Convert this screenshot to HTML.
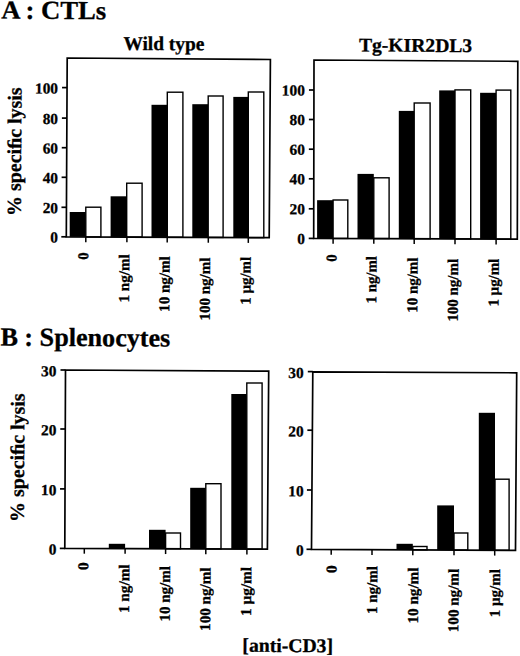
<!DOCTYPE html>
<html><head><meta charset="utf-8"><title>Figure</title>
<style>
html,body{margin:0;padding:0;background:#fff;}
body{width:520px;height:656px;overflow:hidden;}
svg{display:block;}
text{font-family:"Liberation Serif", serif;font-weight:bold;fill:#000;stroke:#000;stroke-width:0.3px;}
.ax{fill:none;stroke:#000;stroke-width:1.7;}
.tk{fill:none;stroke:#000;stroke-width:1.5;}
.w{fill:#fff;stroke:#000;stroke-width:1.4;}
</style></head><body>
<svg width="520" height="656" viewBox="0 0 520 656">
<rect x="69.7" y="212" width="16.1" height="24.89"/>
<rect class="w" x="85.8" y="207.2" width="15.1" height="29.69"/>
<rect x="110.6" y="196.3" width="16.1" height="40.77"/>
<rect class="w" x="126.7" y="183.2" width="15.4" height="53.87"/>
<rect x="151.5" y="104.8" width="15.8" height="132.45"/>
<rect class="w" x="167.3" y="92.2" width="15.6" height="145.05"/>
<rect x="192.3" y="104.2" width="15.9" height="133.23"/>
<rect class="w" x="208.2" y="96" width="14.9" height="141.43"/>
<rect x="233.3" y="96.9" width="15" height="140.71"/>
<rect class="w" x="248.3" y="92" width="15.5" height="145.61"/>
<path class="ax" d="M67.2 58L270.4 59.5L269.2 237.7L66.3 236.8Z"/>
<path class="ax" d="M61.3 236.8H66.3"/>
<text transform="translate(50.36 242.61) rotate(0.37)" font-size="15.3" textLength="7.65" lengthAdjust="spacingAndGlyphs">0</text>
<path class="ax" d="M61.45 207.3H66.45"/>
<text transform="translate(42.71 213.11) rotate(0.37)" font-size="15.3" textLength="15.3" lengthAdjust="spacingAndGlyphs">20</text>
<path class="ax" d="M61.6 177.3H66.6"/>
<text transform="translate(42.71 183.11) rotate(0.37)" font-size="15.3" textLength="15.3" lengthAdjust="spacingAndGlyphs">40</text>
<path class="ax" d="M61.75 147.7H66.75"/>
<text transform="translate(42.71 153.51) rotate(0.37)" font-size="15.3" textLength="15.3" lengthAdjust="spacingAndGlyphs">60</text>
<path class="ax" d="M61.9 118.1H66.9"/>
<text transform="translate(42.71 123.91) rotate(0.37)" font-size="15.3" textLength="15.3" lengthAdjust="spacingAndGlyphs">80</text>
<path class="ax" d="M62.05 87.6H67.05"/>
<text transform="translate(35.06 93.41) rotate(0.37)" font-size="15.3" textLength="22.95" lengthAdjust="spacingAndGlyphs">100</text>
<path class="tk" d="M85.8 236.89V242.19"/>
<path class="tk" d="M126.9 237.07V242.37"/>
<path class="tk" d="M167.2 237.25V242.55"/>
<path class="tk" d="M208.3 237.43V242.73"/>
<path class="tk" d="M248.3 237.61V242.91"/>
<text transform="translate(88.2 259.79) rotate(-89.63)" font-size="15.1" textLength="7.38" lengthAdjust="spacingAndGlyphs">0</text>
<text transform="translate(129 302.4) rotate(-89.63)" font-size="15.1" textLength="48.03" lengthAdjust="spacingAndGlyphs">1 ng/ml</text>
<text transform="translate(169.3 311.91) rotate(-89.63)" font-size="15.1" textLength="55.73" lengthAdjust="spacingAndGlyphs">10 ng/ml</text>
<text transform="translate(209.7 320.5) rotate(-89.63)" font-size="15.1" textLength="62.92" lengthAdjust="spacingAndGlyphs">100 ng/ml</text>
<text transform="translate(250.4 304.69) rotate(-89.63)" font-size="15.1" textLength="47.71" lengthAdjust="spacingAndGlyphs">1 µg/ml</text>
<rect x="317.1" y="200.2" width="16" height="38.19"/>
<rect class="w" x="333.1" y="200" width="14.7" height="38.39"/>
<rect x="357.5" y="173.9" width="16.3" height="64.67"/>
<rect class="w" x="373.8" y="177.8" width="15.3" height="60.77"/>
<rect x="398.8" y="110.9" width="15.4" height="127.84"/>
<rect class="w" x="414.2" y="103" width="15.9" height="135.74"/>
<rect x="439.2" y="90.4" width="15.8" height="148.52"/>
<rect class="w" x="455" y="89.9" width="15.7" height="149.02"/>
<rect x="480.1" y="92.8" width="16" height="146.31"/>
<rect class="w" x="496.1" y="90.1" width="14.7" height="149.01"/>
<path class="ax" d="M314 60L517.8 61.3L517.3 239.2L313.7 238.3Z"/>
<path class="ax" d="M308.7 238.4H313.7"/>
<text transform="translate(297.16 243.91) rotate(0.37)" font-size="15.3" textLength="7.65" lengthAdjust="spacingAndGlyphs">0</text>
<path class="ax" d="M308.75 208.8H313.75"/>
<text transform="translate(289.51 214.31) rotate(0.37)" font-size="15.3" textLength="15.3" lengthAdjust="spacingAndGlyphs">20</text>
<path class="ax" d="M308.8 178.8H313.8"/>
<text transform="translate(289.51 184.31) rotate(0.37)" font-size="15.3" textLength="15.3" lengthAdjust="spacingAndGlyphs">40</text>
<path class="ax" d="M308.85 149.2H313.85"/>
<text transform="translate(289.51 154.71) rotate(0.37)" font-size="15.3" textLength="15.3" lengthAdjust="spacingAndGlyphs">60</text>
<path class="ax" d="M308.9 119.5H313.9"/>
<text transform="translate(289.51 125.01) rotate(0.37)" font-size="15.3" textLength="15.3" lengthAdjust="spacingAndGlyphs">80</text>
<path class="ax" d="M308.95 90H313.95"/>
<text transform="translate(281.86 95.51) rotate(0.37)" font-size="15.3" textLength="22.95" lengthAdjust="spacingAndGlyphs">100</text>
<path class="tk" d="M333.1 238.39V243.69"/>
<path class="tk" d="M373.8 238.57V243.87"/>
<path class="tk" d="M414.2 238.74V244.04"/>
<path class="tk" d="M455 238.92V244.22"/>
<path class="tk" d="M496.1 239.11V244.41"/>
<text transform="translate(336.4 261.78) rotate(-89.63)" font-size="15.1" textLength="7.26" lengthAdjust="spacingAndGlyphs">0</text>
<text transform="translate(376.3 303.38) rotate(-89.63)" font-size="15.1" textLength="47.2" lengthAdjust="spacingAndGlyphs">1 ng/ml</text>
<text transform="translate(417.3 312.8) rotate(-89.63)" font-size="15.1" textLength="55.22" lengthAdjust="spacingAndGlyphs">10 ng/ml</text>
<text transform="translate(457.7 321.6) rotate(-89.63)" font-size="15.1" textLength="62.72" lengthAdjust="spacingAndGlyphs">100 ng/ml</text>
<text transform="translate(498.5 306.59) rotate(-89.63)" font-size="15.1" textLength="47.81" lengthAdjust="spacingAndGlyphs">1 µg/ml</text>
<rect x="108.8" y="543.8" width="16.3" height="4.77"/>
<rect x="149" y="529.8" width="16.6" height="18.95"/>
<rect class="w" x="165.6" y="533" width="14.9" height="15.75"/>
<rect x="190.2" y="487.8" width="15.6" height="61.13"/>
<rect class="w" x="205.8" y="483.7" width="15.2" height="65.23"/>
<rect x="231.3" y="394" width="15.5" height="155.11"/>
<rect class="w" x="246.8" y="383" width="15.3" height="166.11"/>
<path class="ax" d="M65.5 370L268.7 371.2L267.4 549.2L64.8 548.3Z"/>
<path class="ax" d="M59.8 548.4H64.8"/>
<text transform="translate(48.76 554.61) rotate(0.37)" font-size="15.3" textLength="7.65" lengthAdjust="spacingAndGlyphs">0</text>
<path class="ax" d="M60.03 488.9H65.03"/>
<text transform="translate(41.11 495.11) rotate(0.37)" font-size="15.3" textLength="15.3" lengthAdjust="spacingAndGlyphs">10</text>
<path class="ax" d="M60.27 429H65.27"/>
<text transform="translate(41.11 435.21) rotate(0.37)" font-size="15.3" textLength="15.3" lengthAdjust="spacingAndGlyphs">20</text>
<path class="ax" d="M60.5 370H65.5"/>
<text transform="translate(41.11 376.21) rotate(0.37)" font-size="15.3" textLength="15.3" lengthAdjust="spacingAndGlyphs">30</text>
<path class="tk" d="M84.3 548.39V553.69"/>
<path class="tk" d="M125.1 548.57V553.87"/>
<path class="tk" d="M165.6 548.75V554.05"/>
<path class="tk" d="M205.8 548.93V554.23"/>
<path class="tk" d="M246.9 549.11V554.41"/>
<text transform="translate(88.2 570.14) rotate(-89.63)" font-size="15.1" textLength="7.98" lengthAdjust="spacingAndGlyphs">0</text>
<text transform="translate(129 613.02) rotate(-89.63)" font-size="15.1" textLength="48.54" lengthAdjust="spacingAndGlyphs">1 ng/ml</text>
<text transform="translate(169.7 621.5) rotate(-89.63)" font-size="15.1" textLength="55.32" lengthAdjust="spacingAndGlyphs">10 ng/ml</text>
<text transform="translate(210.1 630.91) rotate(-89.63)" font-size="15.1" textLength="63.33" lengthAdjust="spacingAndGlyphs">100 ng/ml</text>
<text transform="translate(251 616.02) rotate(-89.63)" font-size="15.1" textLength="49.05" lengthAdjust="spacingAndGlyphs">1 µg/ml</text>
<rect x="396.5" y="543.8" width="16.3" height="6.05"/>
<rect class="w" x="412.8" y="546.5" width="14.2" height="3.35"/>
<rect x="437.2" y="505.4" width="16.8" height="44.67"/>
<rect class="w" x="454" y="533" width="13.8" height="17.07"/>
<rect x="478.8" y="412.8" width="16.2" height="137.49"/>
<rect class="w" x="495" y="479.2" width="14.1" height="71.09"/>
<path class="ax" d="M312.8 371.8L516.7 372.8L515.5 550.4L311.5 549.3Z"/>
<path class="ax" d="M306.5 549.3H311.5"/>
<text transform="translate(295.96 555.61) rotate(0.37)" font-size="15.3" textLength="7.65" lengthAdjust="spacingAndGlyphs">0</text>
<path class="ax" d="M306.93 490H311.93"/>
<text transform="translate(288.31 496.31) rotate(0.37)" font-size="15.3" textLength="15.3" lengthAdjust="spacingAndGlyphs">10</text>
<path class="ax" d="M307.37 430.2H312.37"/>
<text transform="translate(288.31 436.51) rotate(0.37)" font-size="15.3" textLength="15.3" lengthAdjust="spacingAndGlyphs">20</text>
<path class="ax" d="M307.8 371.6H312.8"/>
<text transform="translate(288.31 377.91) rotate(0.37)" font-size="15.3" textLength="15.3" lengthAdjust="spacingAndGlyphs">30</text>
<path class="tk" d="M331.2 549.41V554.71"/>
<path class="tk" d="M372 549.63V554.93"/>
<path class="tk" d="M412.8 549.85V555.15"/>
<path class="tk" d="M454 550.07V555.37"/>
<path class="tk" d="M494.7 550.29V555.59"/>
<text transform="translate(336.4 573.14) rotate(-89.63)" font-size="15.1" textLength="7.98" lengthAdjust="spacingAndGlyphs">0</text>
<text transform="translate(377 614.1) rotate(-89.63)" font-size="15.1" textLength="47.92" lengthAdjust="spacingAndGlyphs">1 ng/ml</text>
<text transform="translate(418 623.51) rotate(-89.63)" font-size="15.1" textLength="55.94" lengthAdjust="spacingAndGlyphs">10 ng/ml</text>
<text transform="translate(458.3 632.21) rotate(-89.63)" font-size="15.1" textLength="63.33" lengthAdjust="spacingAndGlyphs">100 ng/ml</text>
<text transform="translate(499.7 617.19) rotate(-89.63)" font-size="15.1" textLength="48.02" lengthAdjust="spacingAndGlyphs">1 µg/ml</text>
<text transform="translate(20.7 215.89) rotate(-89.63)" font-size="19.8" textLength="128.49" lengthAdjust="spacingAndGlyphs">% speciﬁc lysis</text>
<text transform="translate(23.7 521.89) rotate(-89.63)" font-size="19.8" textLength="128.49" lengthAdjust="spacingAndGlyphs">% speciﬁc lysis</text>
<text transform="translate(123.41 50) rotate(0.2)" font-size="19.5" textLength="80.91" lengthAdjust="spacingAndGlyphs">Wild type</text>
<text transform="translate(358.91 51.4) rotate(0.37)" font-size="19.4" textLength="113.25" lengthAdjust="spacingAndGlyphs">Tg-KIR2DL3</text>
<text transform="translate(1.13 18.6) rotate(0.37)" font-size="26" textLength="105.04" lengthAdjust="spacingAndGlyphs">A : CTLs</text>
<text transform="translate(0.41 345.5) rotate(0.37)" font-size="26" textLength="169.85" lengthAdjust="spacingAndGlyphs">B : Splenocytes</text>
<text transform="translate(242.33 651.7) rotate(0.37)" font-size="19.5" textLength="90.66" lengthAdjust="spacingAndGlyphs">[anti-CD3]</text>
</svg>
</body></html>
